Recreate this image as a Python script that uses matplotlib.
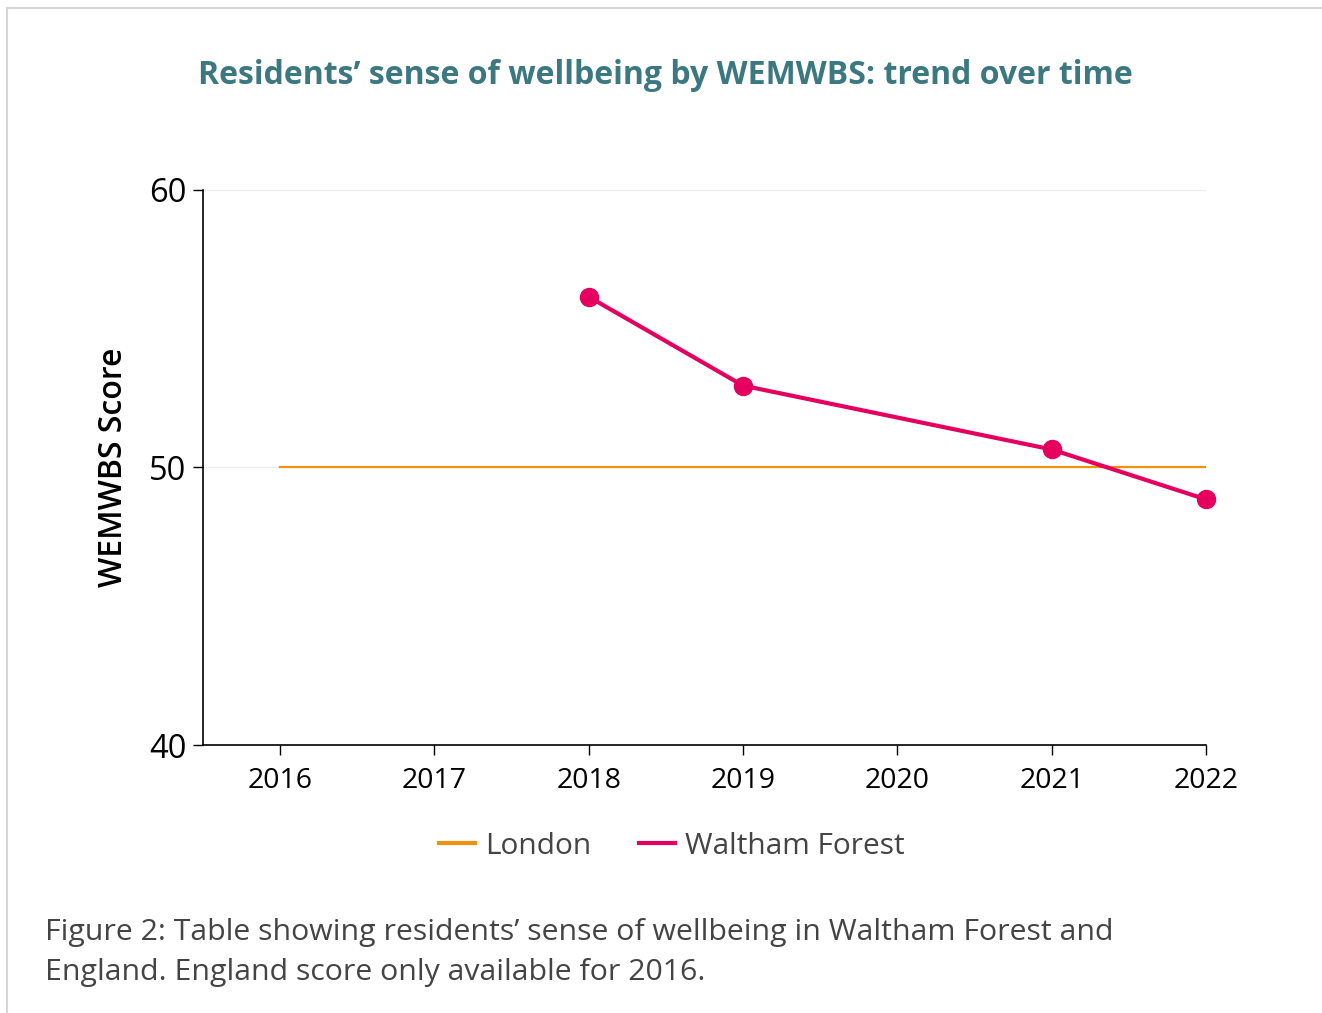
import matplotlib
matplotlib.use("Agg")
import matplotlib.pyplot as plt
from matplotlib.lines import Line2D

plt.rcParams['font.family'] = ['Open Sans', 'DejaVu Sans']

years = [2016, 2017, 2018, 2019, 2020, 2021, 2022]
london_years = [2016, 2022]
london = [50.0, 50.0]
wf_years = [2018, 2019, 2021, 2022]
waltham_forest = [56.15, 52.95, 50.65, 48.85]
y_ticks = [40, 50, 60]

title = "Residents\u2019 sense of wellbeing by WEMWBS: trend over time"
caption = ("Figure 2: Table showing residents\u2019 sense of wellbeing in Waltham Forest and\n"
           "England. England score only available for 2016.")

teal = '#3b7880'
pink = '#e5005f'
orange = '#f0920f'

fig = plt.figure(figsize=(13.22, 10.13), dpi=100)
ax = fig.add_axes([203/1322, 1 - 745/1013, (1206 - 203)/1322, (745 - 190)/1013])

# faint page border (top and left)
fig.add_artist(Line2D([7/1322, 1], [1 - 8/1013, 1 - 8/1013], color='#d6d6d6', lw=1.5))
fig.add_artist(Line2D([7/1322, 7/1322], [0, 1 - 8/1013], color='#d6d6d6', lw=1.5))

ax.plot(london_years, london, color=orange, lw=1.6, zorder=3)
ax.plot(wf_years, waltham_forest, color=pink, lw=3.0, marker='o', markersize=13,
        clip_on=False, zorder=4)

ax.set_xlim(2015.5, 2022)
ax.set_ylim(40, 60)
ax.set_xticks(years)
ax.set_xticklabels([str(y) for y in years])
ax.set_yticks(y_ticks)
ax.tick_params(axis='y', labelsize=23.5, length=7, width=1, pad=5)
ax.tick_params(axis='x', labelsize=20.5, length=7, width=1, pad=9)
ax.yaxis.grid(True, color='#ececec', lw=1)
ax.set_axisbelow(True)
for s in ['top', 'right']:
    ax.spines[s].set_visible(False)
for s in ['left', 'bottom']:
    ax.spines[s].set_linewidth(1.2)

ax.set_ylabel('WEMWBS Score', fontsize=23, labelpad=14, fontweight='semibold')

fig.text(665/1322, 1 - 75/1013, title, ha='center', va='center',
         fontsize=23, fontweight='bold', color=teal)

handles = [Line2D([], [], color=orange, lw=3), Line2D([], [], color=pink, lw=3)]
fig.legend(handles, ['London', 'Waltham Forest'], loc='center',
           bbox_to_anchor=(672/1322, 1 - 846/1013), ncol=2, frameon=False,
           fontsize=21.5, handlelength=1.2, handletextpad=0.35, columnspacing=1.6,
           labelcolor='#444444')

fig.text(45/1322, 1 - 952/1013, caption, ha='left', va='center',
         fontsize=21.8, color='#444444', linespacing=1.5)

fig.savefig('out.png', dpi=100, facecolor='white')
